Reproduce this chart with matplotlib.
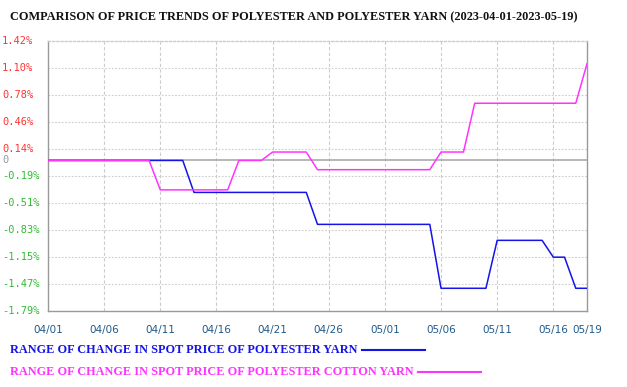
import numpy as np
import pandas as pd
import matplotlib
matplotlib.use("Agg")
import matplotlib.pyplot as plt
import matplotlib.transforms as mtransforms

title = "COMPARISON OF PRICE TRENDS OF POLYESTER AND POLYESTER YARN (2023-04-01-2023-05-19)"
dates = pd.date_range("2023-04-01", "2023-05-19", freq="D")

# daily change (%)
polyester_yarn = [0, 0, 0, 0, 0, 0, 0, 0, 0, 0, 0, 0, 0,
                  -0.38, -0.38, -0.38, -0.38, -0.38, -0.38, -0.38, -0.38, -0.38, -0.38, -0.38,
                  -0.76, -0.76, -0.76, -0.76, -0.76, -0.76, -0.76, -0.76, -0.76, -0.76, -0.76,
                  -1.52, -1.52, -1.52, -1.52, -1.52,
                  -0.95, -0.95, -0.95, -0.95, -0.95,
                  -1.15, -1.15,
                  -1.52, -1.52]
poly_cotton_yarn = [0, 0, 0, 0, 0, 0, 0, 0, 0, 0,
                    -0.35, -0.35, -0.35, -0.35, -0.35, -0.35, -0.35,
                    0, 0, 0,
                    0.10, 0.10, 0.10, 0.10,
                    -0.11, -0.11, -0.11, -0.11, -0.11, -0.11, -0.11, -0.11, -0.11, -0.11, -0.11,
                    0.10, 0.10, 0.10,
                    0.68, 0.68, 0.68, 0.68, 0.68, 0.68, 0.68, 0.68, 0.68, 0.68,
                    1.15]

y_ticks = [1.42, 1.10, 0.78, 0.46, 0.14, 0, -0.19, -0.51, -0.83, -1.15, -1.47, -1.79]
x_tick_idx = [0, 5, 10, 15, 20, 25, 30, 35, 40, 45, 48]

series_names = ["RANGE OF CHANGE IN SPOT PRICE OF POLYESTER YARN",
                "RANGE OF CHANGE IN SPOT PRICE OF POLYESTER COTTON YARN"]
series_colors = ["#1414e6", "#ff33ff"]

fig = plt.figure(figsize=(6.27, 3.87), dpi=100)
ax = fig.add_axes([48 / 627, 1 - 311 / 387, (587 - 48) / 627, (311 - 41) / 387])

x = np.arange(len(dates))
ax.set_xlim(0, len(dates) - 1)
ax.set_ylim(min(y_ticks), max(y_ticks))

# grid
for t in y_ticks:
    if t == 0:
        ax.axhline(t, color="#aaaaaa", lw=1.2, zorder=1)
    elif t not in (max(y_ticks), min(y_ticks)):
        ax.axhline(t, color="#cccccc", lw=0.8, ls=(0, (1.5, 1.5)), zorder=0)
for i in x_tick_idx[1:-1]:
    ax.axvline(i, color="#cccccc", lw=0.8, ls=(0, (3, 2)), zorder=0)

ax.plot(x, polyester_yarn, color=series_colors[0], lw=1.1, zorder=3)
ax.plot(x, poly_cotton_yarn, color=series_colors[1], lw=1.1, zorder=3)

for s in ax.spines.values():
    s.set_color("#999999")
    s.set_linewidth(1.0)
ax.spines["top"].set_color("#cccccc")
ax.spines["top"].set_linestyle((0, (1.5, 1.5)))

ax.set_yticks([])
ax.set_xticks(x_tick_idx)
ax.set_xticklabels([dates[i].strftime("%m/%d") for i in x_tick_idx],
                   fontsize=7.5, color="#1f5a8a", family="DejaVu Sans")
ax.tick_params(axis="x", length=0, pad=10)

# y labels, left aligned at figure edge
trans = mtransforms.blended_transform_factory(fig.transFigure, ax.transData)
for t in y_ticks:
    if t > 0:
        lab, col = "%.2f%%" % t, "#ff3333"
    elif t < 0:
        lab, col = "%.2f%%" % t, "#33bb33"
    else:
        lab, col = "0", "#999999"
    ax.text(2 / 627, t, lab, transform=trans, ha="left", va="center",
            fontsize=7.5, color=col, family="DejaVu Sans Mono", clip_on=False)

fig.text(10 / 627, 1 - 17 / 387, title, fontsize=8.8, fontweight="bold",
         family="Liberation Serif", ha="left", va="center", color="#111111")

# legend
leg_y = [350, 372]
line_x = [(362, 425), (418, 481)]
for name, col, yy, (x0, x1) in zip(series_names, series_colors, leg_y, line_x):
    fig.text(10 / 627, 1 - yy / 387, name, fontsize=8.8, fontweight="bold",
             family="Liberation Serif", ha="left", va="center", color=col)
    fig.add_artist(plt.Line2D([x0 / 627, x1 / 627], [1 - yy / 387, 1 - yy / 387],
                              color=col, lw=1.5, transform=fig.transFigure))

fig.savefig("out.png", dpi=100)
